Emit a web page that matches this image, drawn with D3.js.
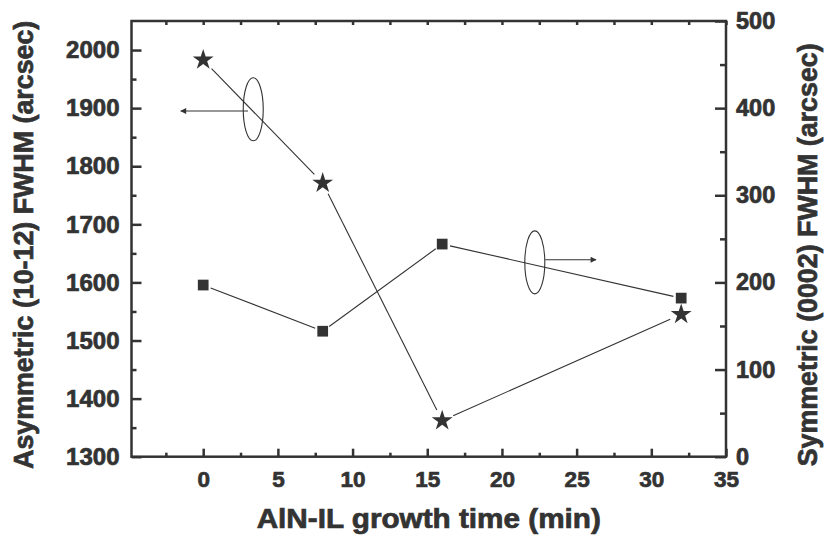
<!DOCTYPE html>
<html>
<head>
<meta charset="utf-8">
<script src="https://cdn.jsdelivr.net/npm/d3@7"></script>
<style>
  html, body { margin: 0; padding: 0; background: #fff; }
  svg { display: block; }
  svg text { font-family: "Liberation Sans", Arial, sans-serif; font-weight: 700; }
</style>
</head>
<body>
<svg id="chart" width="825" height="540"></svg>
<script>
// Growth time of the AlN interlayer (min)
const growthTime = [0, 8, 16, 32];
// Asymmetric (10-12) rocking-curve FWHM, left axis (arcsec)
const asymFWHM = [1983, 1771, 1362, 1545];
// Symmetric (0002) rocking-curve FWHM, right axis (arcsec)
const symFWHM = [197, 144, 244, 182];

const xTicks = [0, 5, 10, 15, 20, 25, 30, 35];
const leftTicks = [1300, 1400, 1500, 1600, 1700, 1800, 1900, 2000];
const rightTicks = [0, 100, 200, 300, 400, 500];

const ink = "#333";
const svg = d3.select("#chart");

const plot = { left: 131.5, right: 726, top: 21, bottom: 456.7 };

const x = d3.scaleLinear().domain([-4.8, 35]).range([plot.left, plot.right]);
const yL = d3.scaleLinear().domain([1300, 2050]).range([plot.bottom, plot.top]);
const yR = d3.scaleLinear().domain([0, 500]).range([plot.bottom, plot.top]);

const xMinor = d3.range(-2.5, 35, 5);
const leftMinor = d3.range(1350, 2050, 100);
const rightMinor = d3.range(50, 500, 100);

// Heavy dark text, as in the printed figure
function heavy(sel, size) {
  sel.attr("fill", ink).attr("stroke", ink).attr("stroke-width", 0.7)
    .style("font-size", size + "px")
    .style("font-family", "'Liberation Sans', Arial, sans-serif")
    .style("font-weight", "700");
}

function styleAxis(g, fontSize) {
  g.select(".domain").remove();
  g.selectAll("line").attr("stroke", ink).attr("stroke-width", 2.5);
  g.selectAll("text").call(heavy, fontSize);
}

// Bottom axis (major + minor ticks pointing in)
svg.append("g").attr("transform", `translate(0,${plot.bottom})`)
  .call(d3.axisBottom(x).tickValues(xTicks).tickSize(-8).tickPadding(14).tickFormat(d3.format("d")))
  .call(g => styleAxis(g, 22.5));
svg.append("g").attr("transform", `translate(0,${plot.bottom})`)
  .call(d3.axisBottom(x).tickValues(xMinor).tickSize(-4).tickFormat(""))
  .call(g => styleAxis(g, 22));

// Top axis (short ticks only)
svg.append("g").attr("transform", `translate(0,${plot.top})`)
  .call(d3.axisTop(x).tickValues(xTicks.concat(xMinor)).tickSize(-4).tickFormat(""))
  .call(g => styleAxis(g, 22));

// Left axis
svg.append("g").attr("transform", `translate(${plot.left},0)`)
  .call(d3.axisLeft(yL).tickValues(leftTicks).tickSize(-10).tickPadding(12).tickFormat(d3.format("d")))
  .call(g => styleAxis(g, 24));
svg.append("g").attr("transform", `translate(${plot.left},0)`)
  .call(d3.axisLeft(yL).tickValues(leftMinor).tickSize(-5).tickFormat(""))
  .call(g => styleAxis(g, 24));

// Right axis
svg.append("g").attr("transform", `translate(${plot.right},0)`)
  .call(d3.axisRight(yR).tickValues(rightTicks).tickSize(-11).tickPadding(10).tickFormat(d3.format("d")))
  .call(g => styleAxis(g, 23.5));
svg.append("g").attr("transform", `translate(${plot.right},0)`)
  .call(d3.axisRight(yR).tickValues(rightMinor).tickSize(-6).tickFormat(""))
  .call(g => styleAxis(g, 23));

// Plot frame
svg.append("rect")
  .attr("x", plot.left).attr("y", plot.top)
  .attr("width", plot.right - plot.left).attr("height", plot.bottom - plot.top)
  .attr("fill", "none").attr("stroke", ink).attr("stroke-width", 2.5);

// Connecting segments, stopped short of each marker
function drawSeries(yScale, values, gap) {
  const pts = growthTime.map((t, i) => [x(t), yScale(values[i])]);
  const segs = d3.pairs(pts).map(([a, b]) => {
    const dx = b[0] - a[0], dy = b[1] - a[1];
    const len = Math.hypot(dx, dy);
    const ux = dx / len, uy = dy / len;
    return [[a[0] + ux * gap, a[1] + uy * gap], [b[0] - ux * gap, b[1] - uy * gap]];
  });
  svg.append("g").selectAll("line").data(segs).join("line")
    .attr("x1", d => d[0][0]).attr("y1", d => d[0][1])
    .attr("x2", d => d[1][0]).attr("y2", d => d[1][1])
    .attr("stroke", ink).attr("stroke-width", 1.1);
  return pts;
}

const starPts = drawSeries(yL, asymFWHM, 12);
const squarePts = drawSeries(yR, symFWHM, 8);

svg.append("g").selectAll("path").data(starPts).join("path")
  .attr("transform", d => `translate(${d[0]},${d[1]})`)
  .attr("d", d3.symbol(d3.symbolStar, 135))
  .attr("fill", ink);

svg.append("g").selectAll("path").data(squarePts).join("path")
  .attr("transform", d => `translate(${d[0]},${d[1]})`)
  .attr("d", d3.symbol(d3.symbolSquare, 115))
  .attr("fill", ink);

// Series indicators: ellipse around a curve with an arrow toward its axis
svg.append("defs").append("marker")
  .attr("id", "head").attr("viewBox", "0 0 10 10")
  .attr("refX", 9).attr("refY", 5)
  .attr("markerWidth", 9).attr("markerHeight", 6)
  .attr("markerUnits", "userSpaceOnUse")
  .attr("orient", "auto")
  .append("path").attr("d", "M0,0 L10,5 L0,10 Z").attr("fill", ink);

const indicators = [
  { cx: 3.35, cy: yL(1898), from: 3.0, to: -1.5, ay: yL(1895) },
  { cx: 22.2, cy: yR(223), from: 22.9, to: 26.3, ay: yR(226) }
];
indicators.forEach(d => {
  svg.append("ellipse")
    .attr("cx", x(d.cx)).attr("cy", d.cy)
    .attr("rx", 10).attr("ry", 31.5)
    .attr("fill", "none").attr("stroke", ink).attr("stroke-width", 1.1);
  svg.append("line")
    .attr("x1", x(d.from)).attr("y1", d.ay)
    .attr("x2", x(d.to)).attr("y2", d.ay)
    .attr("stroke", ink).attr("stroke-width", 1.1)
    .attr("marker-end", "url(#head)");
});

// Axis titles
svg.append("text")
  .attr("transform", `translate(${(plot.left + plot.right) / 2},528) scale(1.1,1)`)
  .attr("text-anchor", "middle")
  .call(heavy, 27)
  .text("AlN-IL growth time (min)");

svg.append("text")
  .attr("transform", `translate(33,${(plot.top + plot.bottom) / 2 + 6}) rotate(-90)`)
  .attr("text-anchor", "middle")
  .call(heavy, 26.8)
  .text("Asymmetric (10-12) FWHM (arcsec)");

svg.append("text")
  .attr("transform", `translate(817,${(plot.top + plot.bottom) / 2 + 16}) rotate(-90)`)
  .attr("text-anchor", "middle")
  .call(heavy, 26.8)
  .text("Symmetric (0002) FWHM (arcsec)");
</script>
</body>
</html>
